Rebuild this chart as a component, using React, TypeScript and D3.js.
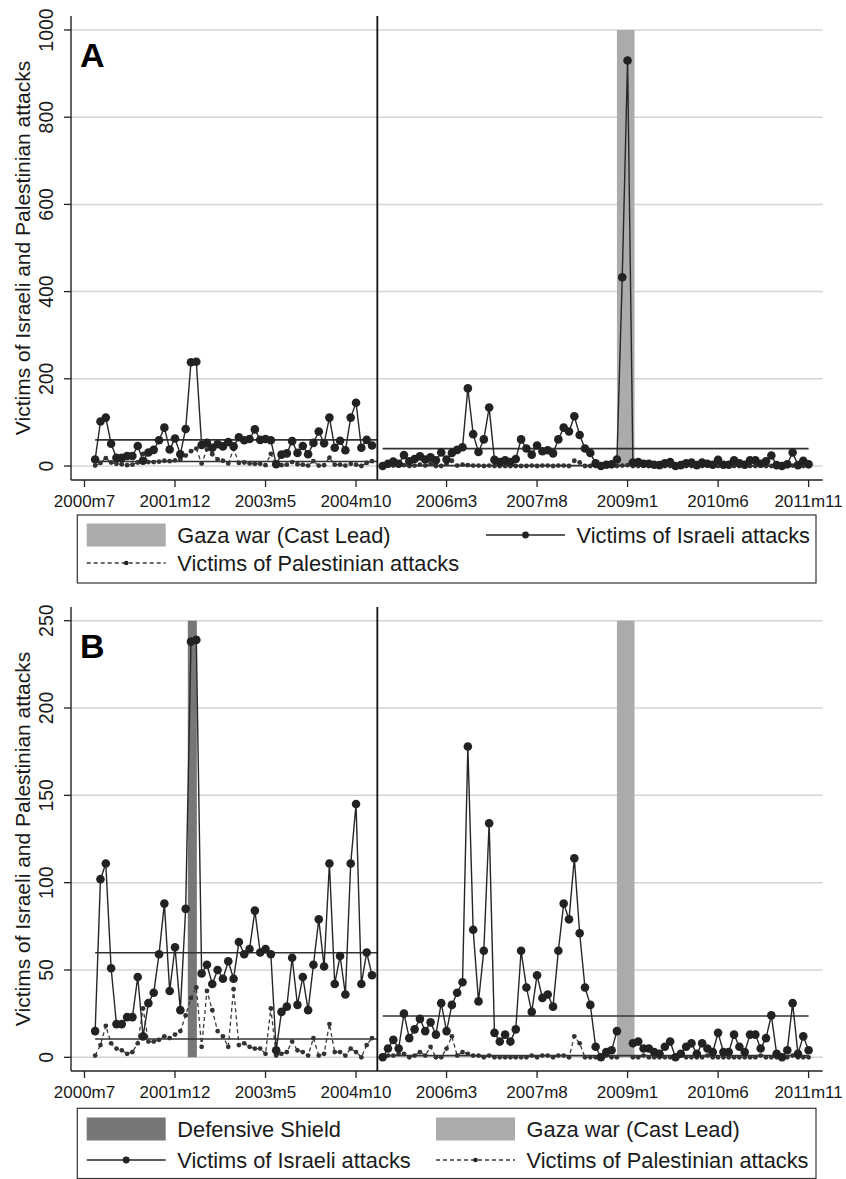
import { useRef, useEffect } from "react";
import * as d3 from "d3";

// months counted from 2000m7
const monthTicks = [0, 17, 34, 51, 68, 85, 102, 119, 136];
const monthLabels = ["2000m7", "2001m12", "2003m5", "2004m10", "2006m3", "2007m8", "2009m1", "2010m6", "2011m11"];

const leftStart = 2;   // 2000m9
const periodBreak = 55; // 2005m2
const rightStart = 56; // 2005m3

// 2000m9 .. 2005m1
const israeliLeft = [
  15, 102, 111, 51, 19, 19, 23, 23, 46, 12,
  31, 37, 59, 88, 38, 63, 27, 85, 238, 239,
  48, 53, 42, 50, 45, 55, 45, 66, 59, 62,
  84, 60, 62, 59, 4, 26, 29, 57, 30, 46,
  27, 53, 79, 52, 111, 42, 58, 36, 111, 145,
  42, 60, 47,
];
const palestinianLeft = [
  1, 7, 18, 8, 5, 4, 2, 3, 8, 28,
  9, 9, 10, 12, 11, 13, 15, 24, 34, 40,
  6, 38, 27, 15, 12, 6, 39, 7, 8, 6,
  5, 5, 2, 28, 1, 2, 3, 9, 4, 3,
  1, 11, 1, 2, 19, 3, 3, 1, 5, 3,
  0, 7, 11,
];
// 2005m3 .. 2011m11
const israeliRight = [
  0, 5, 10, 5, 25, 11, 16, 22, 15, 20,
  13, 31, 15, 30, 37, 43, 178, 73, 32, 61,
  134, 14, 9, 13, 9, 16, 61, 40, 26, 47,
  34, 36, 29, 61, 88, 79, 114, 71, 40, 30,
  6, 0, 3, 4, 15, 433, 930, 8, 9, 5,
  5, 3, 2, 6, 9, 0, 2, 6, 8, 2,
  8, 5, 3, 14, 3, 3, 13, 6, 3, 13,
  13, 5, 11, 24, 2, 0, 4, 31, 2, 12,
  4,
];
const palestinianRight = [
  0, 1, 1, 2, 2, 0, 1, 3, 1, 6,
  0, 0, 5, 12, 1, 3, 2, 1, 1, 0,
  1, 0, 0, 0, 0, 0, 0, 0, 1, 0,
  1, 1, 0, 1, 1, 0, 12, 8, 0, 0,
  0, 0, 1, 0, 0, 1, 2, 0, 0, 1,
  0, 0, 0, 0, 0, 0, 1, 0, 0, 0,
  0, 1, 0, 0, 0, 0, 0, 0, 0, 0,
  0, 1, 0, 0, 0, 0, 0, 1, 0, 0,
  0,
];

const gazaMonths = [101, 102];
const defensiveShield = [19.4, 21.1];
const castLead = [100, 103.3];

const ticksA = [0, 200, 400, 600, 800, 1000];
const ticksB = [0, 50, 100, 150, 200, 250];

const FONT = "'Liberation Sans', Arial, Helvetica, sans-serif";
const W = 846, H = 1179;

type Pt = { m: number; v: number | null };

function toPoints(vals: number[], start: number, dropGaza: boolean): Pt[] {
  return vals.map((v, i) => {
    const m = start + i;
    return { m, v: dropGaza && gazaMonths.includes(m) ? null : v };
  });
}

export default function App() {
  const svgRef = useRef<SVGSVGElement>(null);

  useEffect(() => {
    document.body.style.margin = "0";
    if (!svgRef.current) return;
    const svg = d3.select(svgRef.current);
    svg.selectAll("*").remove();

    const x = d3.scaleLinear().domain([0, 136]).range([84.5, 808.6]);
    const axisLeft = 71, axisRight = 822.7;

    const panels = [
      { letter: "A", max: 1000, ticks: ticksA, y0: 466, y1: 30, top: 16, base: 480, drop: false, shield: false },
      { letter: "B", max: 250, ticks: ticksB, y0: 1057.3, y1: 620.7, top: 607, base: 1071, drop: true, shield: true },
    ];

    panels.forEach((p) => {
      const y = d3.scaleLinear().domain([0, p.max]).range([p.y0, p.y1]);
      const g = svg.append("g");

      // gridlines
      g.selectAll(".grid").data(p.ticks).join("line")
        .attr("x1", axisLeft).attr("x2", axisRight)
        .attr("y1", (d) => y(d)).attr("y2", (d) => y(d))
        .attr("stroke", "#d4d4d4").attr("stroke-width", 1.5);

      // shaded periods
      const bands: [number[], string][] = [[castLead, "#ababab"]];
      if (p.shield) bands.unshift([defensiveShield, "#777777"]);
      bands.forEach(([b, c]) => {
        g.append("rect")
          .attr("x", x(b[0])).attr("width", x(b[1]) - x(b[0]))
          .attr("y", y(p.max)).attr("height", y(0) - y(p.max))
          .attr("fill", c);
      });

      const iL = toPoints(israeliLeft, leftStart, p.drop);
      const pL = toPoints(palestinianLeft, leftStart, p.drop);
      const iR = toPoints(israeliRight, rightStart, p.drop);
      const pR = toPoints(palestinianRight, rightStart, p.drop);

      // period means
      const means: [Pt[], number, number][] = [
        [iL, leftStart, periodBreak], [pL, leftStart, periodBreak],
        [iR, rightStart, 136], [pR, rightStart, 136],
      ];
      means.forEach(([s, a, b]) => {
        const mv = d3.mean(s, (d) => (d.v == null ? undefined : d.v)) as number;
        g.append("line")
          .attr("x1", x(a)).attr("x2", x(b))
          .attr("y1", y(mv)).attr("y2", y(mv))
          .attr("stroke", "#333").attr("stroke-width", 1.6);
      });

      const line = d3.line<Pt>()
        .defined((d) => d.v != null)
        .x((d) => x(d.m)).y((d) => y(d.v as number));

      [pL, pR].forEach((s) => {
        g.append("path").attr("d", line(s))
          .attr("fill", "none").attr("stroke", "#3a3a3a")
          .attr("stroke-width", 1.3).attr("stroke-dasharray", "4,3");
        g.selectAll(null).data(s.filter((d) => d.v != null)).join("circle")
          .attr("cx", (d) => x(d.m)).attr("cy", (d) => y(d.v as number))
          .attr("r", 2.4).attr("fill", "#333");
      });
      [iL, iR].forEach((s) => {
        g.append("path").attr("d", line(s))
          .attr("fill", "none").attr("stroke", "#262626").attr("stroke-width", 1.4);
        g.selectAll(null).data(s.filter((d) => d.v != null)).join("circle")
          .attr("cx", (d) => x(d.m)).attr("cy", (d) => y(d.v as number))
          .attr("r", 4.3).attr("fill", "#222");
      });

      // axes
      g.append("line").attr("x1", axisLeft).attr("x2", axisLeft)
        .attr("y1", p.top).attr("y2", p.base).attr("stroke", "#222").attr("stroke-width", 1.4);
      g.append("line").attr("x1", axisLeft).attr("x2", axisRight)
        .attr("y1", p.base).attr("y2", p.base).attr("stroke", "#222").attr("stroke-width", 1.4);
      g.append("line").attr("x1", x(periodBreak)).attr("x2", x(periodBreak))
        .attr("y1", p.top).attr("y2", p.base).attr("stroke", "#111").attr("stroke-width", 1.8);

      g.selectAll(".yt").data(p.ticks).join("line")
        .attr("x1", axisLeft - 7).attr("x2", axisLeft)
        .attr("y1", (d) => y(d)).attr("y2", (d) => y(d))
        .attr("stroke", "#222").attr("stroke-width", 1.3);
      g.selectAll(".yl").data(p.ticks).join("text")
        .attr("transform", (d) => `translate(53,${y(d)}) rotate(-90)`)
        .attr("text-anchor", "middle").attr("font-family", FONT)
        .attr("font-size", 19.5).attr("fill", "#1a1a1a")
        .text((d) => d);

      g.selectAll(".xt").data(monthTicks).join("line")
        .attr("x1", (d) => x(d)).attr("x2", (d) => x(d))
        .attr("y1", p.base).attr("y2", p.base + 7)
        .attr("stroke", "#222").attr("stroke-width", 1.3);
      g.selectAll(".xl").data(monthTicks).join("text")
        .attr("x", (d) => x(d)).attr("y", p.base + 26.5)
        .attr("text-anchor", "middle").attr("font-family", FONT)
        .attr("font-size", 17).attr("fill", "#1a1a1a")
        .text((d, i) => monthLabels[i]);

      g.append("text")
        .attr("transform", `translate(30,${(p.top + p.base) / 2}) rotate(-90)`)
        .attr("text-anchor", "middle").attr("font-family", FONT)
        .attr("font-size", 21).attr("fill", "#1a1a1a")
        .text("Victims of Israeli and Palestinian attacks");

      g.append("text")
        .attr("x", 80).attr("y", p.top + 51)
        .attr("font-family", FONT).attr("font-weight", "bold")
        .attr("font-size", 34).attr("fill", "#000")
        .text(p.letter);
    });

    // legends
    const legend = (top: number, bottom: number, items: { kind: string; label: string; x: number; y: number }[]) => {
      const lg = svg.append("g");
      lg.append("rect").attr("x", 77.3).attr("y", top)
        .attr("width", 816 - 77.3).attr("height", bottom - top)
        .attr("fill", "#fff").attr("stroke", "#333").attr("stroke-width", 1.2);
      items.forEach((it) => {
        const kx = it.x, cy = it.y;
        if (it.kind === "shield" || it.kind === "gaza") {
          lg.append("rect").attr("x", kx).attr("y", cy - 11.5)
            .attr("width", 79).attr("height", 23)
            .attr("fill", it.kind === "shield" ? "#777777" : "#ababab");
        } else {
          lg.append("line").attr("x1", kx).attr("x2", kx + 79)
            .attr("y1", cy).attr("y2", cy)
            .attr("stroke", it.kind === "isr" ? "#262626" : "#3a3a3a")
            .attr("stroke-width", it.kind === "isr" ? 1.4 : 1.3)
            .attr("stroke-dasharray", it.kind === "isr" ? null : "4,3");
          lg.append("circle").attr("cx", kx + 39.5).attr("cy", cy)
            .attr("r", it.kind === "isr" ? 3.4 : 2.3).attr("fill", "#222");
        }
        lg.append("text").attr("x", kx + 90.6).attr("y", cy + 7.8)
          .attr("font-family", FONT).attr("font-size", 21.8).attr("fill", "#1a1a1a")
          .text(it.label);
      });
    };

    legend(515, 583, [
      { kind: "gaza", label: "Gaza war (Cast Lead)", x: 86.7, y: 535 },
      { kind: "isr", label: "Victims of Israeli attacks", x: 486, y: 535 },
      { kind: "pal", label: "Victims of Palestinian attacks", x: 86.7, y: 563 },
    ]);
    legend(1108.3, 1178.5, [
      { kind: "shield", label: "Defensive Shield", x: 86.7, y: 1129 },
      { kind: "gaza", label: "Gaza war (Cast Lead)", x: 436, y: 1129 },
      { kind: "isr", label: "Victims of Israeli attacks", x: 86.7, y: 1160 },
      { kind: "pal", label: "Victims of Palestinian attacks", x: 436, y: 1160 },
    ]);
  }, []);

  return (
    <svg ref={svgRef} width={W} height={H}
      style={{ display: "block", background: "#fff" }} />
  );
}
